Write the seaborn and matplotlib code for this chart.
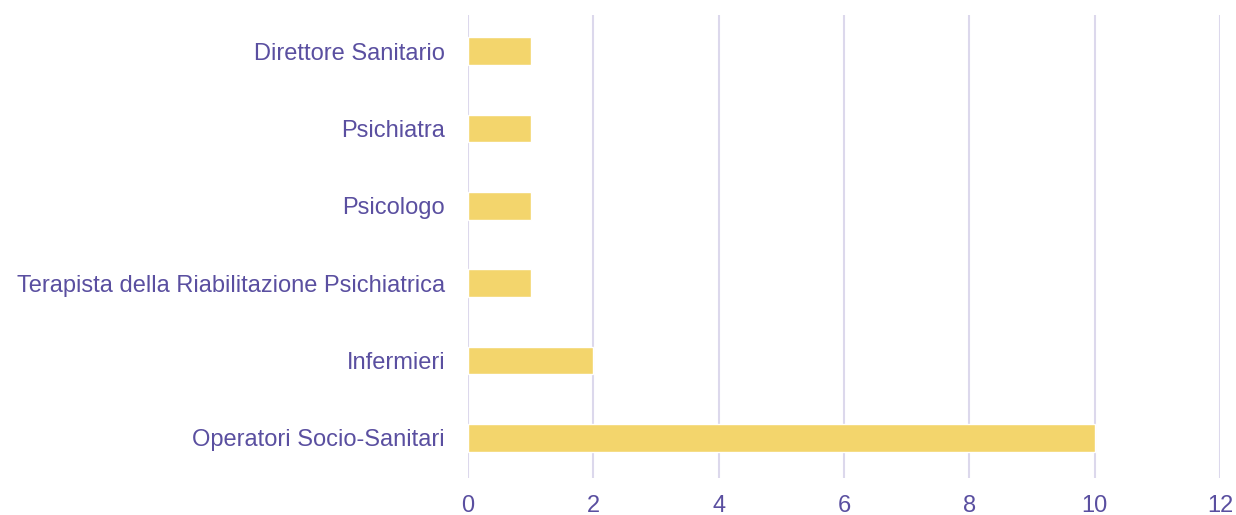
import matplotlib
matplotlib.use("Agg")
import matplotlib.pyplot as plt
import seaborn as sns
import pandas as pd

# ── Data ──────────────────────────────────────────────────────
roles = [
    "Direttore Sanitario",
    "Psichiatra",
    "Psicologo",
    "Terapista della Riabilitazione Psichiatrica",
    "Infermieri",
    "Operatori Socio-Sanitari",
]
counts = [1, 1, 1, 1, 2, 10]
x_ticks = [0, 2, 4, 6, 8, 10, 12]

df = pd.DataFrame({"ruolo": roles, "numero": counts})

# ── Style ─────────────────────────────────────────────────────
sns.set_style("white")
plt.rcParams['font.family'] = ['Liberation Sans', 'DejaVu Sans']
text_col = "#5a4fa0"
grid_col = "#dcd8ec"
bar_col = "#f3d56c"

fig = plt.figure(figsize=(12.36, 5.15), dpi=100)
ax = fig.add_axes([0.3786, 0.072, 0.6085, 0.899])

sns.barplot(data=df, x="numero", y="ruolo", orient="h", color=bar_col,
            width=0.36, saturation=1, ax=ax)

ax.set_xlim(0, 12)
ax.set_ylim(5.52, -0.47)
ax.set_xticks(x_ticks)
ax.set_xlabel("")
ax.set_ylabel("")
ax.grid(axis="x", color=grid_col, linewidth=1.5)
ax.set_axisbelow(True)
sns.despine(ax=ax, left=True, bottom=True, top=True, right=True)
ax.tick_params(axis="both", length=0, labelsize=17, colors=text_col)
ax.tick_params(axis="x", pad=12)
ax.tick_params(axis="y", pad=16.5)

fig.savefig("out.png", dpi=100)
